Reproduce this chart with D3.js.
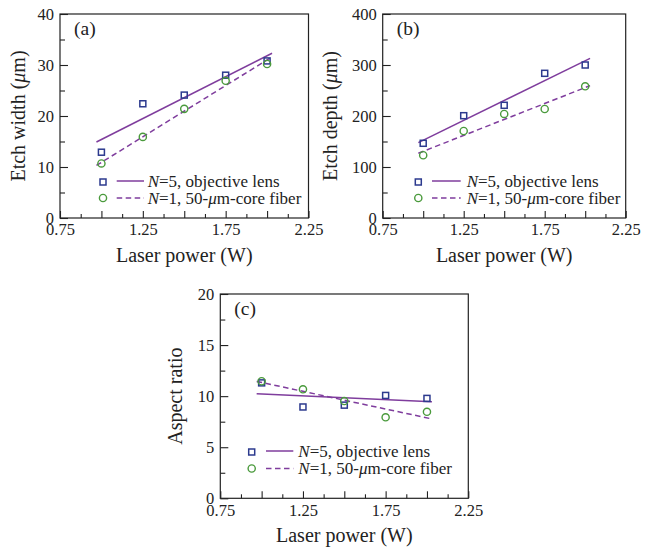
<!DOCTYPE html>
<html>
<head>
<meta charset="utf-8">
<script src="https://cdn.jsdelivr.net/npm/d3@7"></script>
<style>
  html, body { margin: 0; padding: 0; background: #fff; }
  svg { display: block; }
  text { font-family: "Liberation Serif", "Times New Roman", serif; fill: #222; }
</style>
</head>
<body>
<svg id="chart" width="645" height="552"></svg>
<script>
// ---------- data ----------
const power = [1.0, 1.25, 1.5, 1.75, 2.0];
const fitPower = [0.97, 2.03];

const widthObj   = [12.9, 22.4, 24.1, 28.0, 30.8];
const widthFiber = [10.7, 15.9, 21.4, 26.9, 30.2];
const widthObjFit   = [14.9, 32.3];
const widthFiberFit = [10.3, 31.6];

const depthObj   = [146.5, 200.6, 221, 283.7, 300];
const depthFiber = [123, 170.6, 204, 213.7, 258.2];
const depthObjFit   = [147.7, 313];
const depthFiberFit = [127, 259.5];

const ratioObj   = [11.3, 8.94, 9.12, 10.07, 9.78];
const ratioFiber = [11.46, 10.67, 9.52, 7.93, 8.47];
const ratioObjFit   = [10.24, 9.45];
const ratioFiberFit = [11.44, 7.77];

const xMajorTicks = [0.75, 1.0, 1.25, 1.5, 1.75, 2.0, 2.25];
const xMinorTicks = [0.875, 1.125, 1.375, 1.625, 1.875, 2.125];
const xTickLabels = ["0.75", "1.25", "1.75", "2.25"];

const yTicksA = [0, 10, 20, 30, 40], yMinorA = [5, 15, 25, 35];
const yTicksB = [0, 100, 200, 300, 400], yMinorB = [50, 150, 250, 350];
const yTicksC = [0, 5, 10, 15, 20], yMinorC = [2.5, 7.5, 12.5, 17.5];

const legendLabels = [["N", "=5, objective lens"], ["N", "=1, 50-", "μ", "m-core fiber"]];

// ---------- style ----------
const colSquare = "#2c3a8e";
const colCircle = "#4a9a3c";
const colLine = "#7f3d9d";
const colFrame = "#222";

const svg = d3.select("#chart");

function panel(opt) {
  const g = svg.append("g");
  const x = d3.scaleLinear().domain([0.75, 2.25]).range([opt.x0, opt.x1]);
  const y = d3.scaleLinear().domain(opt.yDomain).range([opt.y1, opt.y0]);

  // x axis major
  const xAxisMajor = d3.axisBottom(x).tickValues(xMajorTicks).tickSize(-7).tickPadding(5.5)
    .tickFormat(d => { const s = d3.format(".2f")(d); return xTickLabels.includes(s) ? s : ""; });
  const gxM = g.append("g").attr("transform", `translate(0,${opt.y1})`).call(xAxisMajor);
  const xAxisMinor = d3.axisBottom(x).tickValues(xMinorTicks).tickSize(-4).tickFormat("");
  const gxm = g.append("g").attr("transform", `translate(0,${opt.y1})`).call(xAxisMinor);

  const yAxisMajor = d3.axisLeft(y).tickValues(opt.yTicks).tickSize(-8).tickPadding(6).tickFormat(d3.format("d"));
  const gyM = g.append("g").attr("transform", `translate(${opt.x0},0)`).call(yAxisMajor);
  const yAxisMinor = d3.axisLeft(y).tickValues(opt.yMinor).tickSize(-5).tickFormat("");
  const gym = g.append("g").attr("transform", `translate(${opt.x0},0)`).call(yAxisMinor);

  [gxM, gxm, gyM, gym].forEach(a => {
    a.select(".domain").remove();
    a.selectAll(".tick line").attr("stroke", colFrame).attr("stroke-width", 1.1);
    a.selectAll(".tick text").filter(function () { return this.textContent === ""; }).remove();
    a.selectAll(".tick text").attr("font-family", "Liberation Serif").attr("font-size", 16.5).attr("fill", "#222");
  });

  // frame
  g.append("rect").attr("x", opt.x0).attr("y", opt.y0)
    .attr("width", opt.x1 - opt.x0).attr("height", opt.y1 - opt.y0)
    .attr("fill", "none").attr("stroke", colFrame).attr("stroke-width", 1.2);

  // fit lines
  const line = d3.line().x(d => x(d[0])).y(d => y(d[1]));
  g.append("path").datum(d3.zip(fitPower, opt.fitObj)).attr("d", line)
    .attr("fill", "none").attr("stroke", colLine).attr("stroke-width", 1.5);
  g.append("path").datum(d3.zip(fitPower, opt.fitFiber)).attr("d", line)
    .attr("fill", "none").attr("stroke", colLine).attr("stroke-width", 1.5).attr("stroke-dasharray", "5.5,3.5");

  // markers
  const s = 6;
  g.selectAll(".sq").data(d3.zip(power, opt.obj)).enter().append("rect")
    .attr("x", d => x(d[0]) - s / 2).attr("y", d => y(d[1]) - s / 2)
    .attr("width", s).attr("height", s)
    .attr("fill", "none").attr("stroke", colSquare).attr("stroke-width", 1.5);
  g.selectAll(".ci").data(d3.zip(power, opt.fiber)).enter().append("circle")
    .attr("cx", d => x(d[0])).attr("cy", d => y(d[1])).attr("r", 3.6)
    .attr("fill", "none").attr("stroke", colCircle).attr("stroke-width", 1.4);

  // panel label
  g.append("text").attr("x", opt.x0 + 14).attr("y", opt.y0 + 20.5)
    .attr("font-size", 19.5).text(opt.tag);

  // axis titles
  g.append("text").attr("x", (opt.x0 + opt.x1) / 2).attr("y", opt.y1 + 44)
    .attr("text-anchor", "middle").attr("font-size", 20).text("Laser power (W)");
  const yt = g.append("text")
    .attr("transform", `translate(${opt.yTitleX},${(opt.y0 + opt.y1) / 2}) rotate(-90)`)
    .attr("text-anchor", "middle").attr("font-size", 20);
  opt.yTitle.forEach(p => yt.append("tspan").attr("font-style", p.i ? "italic" : "normal").text(p.t));

  // legend
  const L = opt.legend;
  const rows = [L.y1, L.y2];
  g.append("rect").attr("x", L.mx - s / 2).attr("y", rows[0] + 1 - s / 2).attr("width", s).attr("height", s)
    .attr("fill", "none").attr("stroke", colSquare).attr("stroke-width", 1.5);
  g.append("circle").attr("cx", L.mx).attr("cy", rows[1]).attr("r", 3.6)
    .attr("fill", "none").attr("stroke", colCircle).attr("stroke-width", 1.4);
  g.append("line").attr("x1", L.l0).attr("x2", L.l1).attr("y1", rows[0]).attr("y2", rows[0])
    .attr("stroke", colLine).attr("stroke-width", 1.5);
  g.append("line").attr("x1", L.l0).attr("x2", L.l1).attr("y1", rows[1]).attr("y2", rows[1])
    .attr("stroke", colLine).attr("stroke-width", 1.5).attr("stroke-dasharray", "5.5,3.5");
  legendLabels.forEach((parts, i) => {
    const t = g.append("text").attr("x", L.tx).attr("y", rows[i] + 5.5).attr("font-size", 17);
    parts.forEach(p => t.append("tspan")
      .attr("font-style", (p === "N" || p === "μ") ? "italic" : "normal").text(p));
  });
}

panel({
  x0: 60, x1: 308.5, y0: 14, y1: 218, yDomain: [0, 40],
  yTicks: yTicksA, yMinor: yMinorA,
  obj: widthObj, fiber: widthFiber, fitObj: widthObjFit, fitFiber: widthFiberFit,
  tag: "(a)", yTitleX: 25,
  yTitle: [{t: "Etch width ("}, {t: "μ", i: true}, {t: "m)"}],
  legend: {mx: 103, l0: 116.7, l1: 144, tx: 147.7, y1: 181, y2: 198}
});

panel({
  x0: 382.7, x1: 625.7, y0: 14, y1: 218, yDomain: [0, 400],
  yTicks: yTicksB, yMinor: yMinorB,
  obj: depthObj, fiber: depthFiber, fitObj: depthObjFit, fitFiber: depthFiberFit,
  tag: "(b)", yTitleX: 337,
  yTitle: [{t: "Etch depth ("}, {t: "μ", i: true}, {t: "m)"}],
  legend: {mx: 418.3, l0: 432, l1: 460.7, tx: 466.7, y1: 181, y2: 198}
});

panel({
  x0: 220.3, x1: 468.3, y0: 294, y1: 498.3, yDomain: [0, 20],
  yTicks: yTicksC, yMinor: yMinorC,
  obj: ratioObj, fiber: ratioFiber, fitObj: ratioObjFit, fitFiber: ratioFiberFit,
  tag: "(c)", yTitleX: 182,
  yTitle: [{t: "Aspect ratio"}],
  legend: {mx: 251.7, l0: 266, l1: 293.3, tx: 298.3, y1: 451, y2: 468.5}
});
</script>
</body>
</html>
